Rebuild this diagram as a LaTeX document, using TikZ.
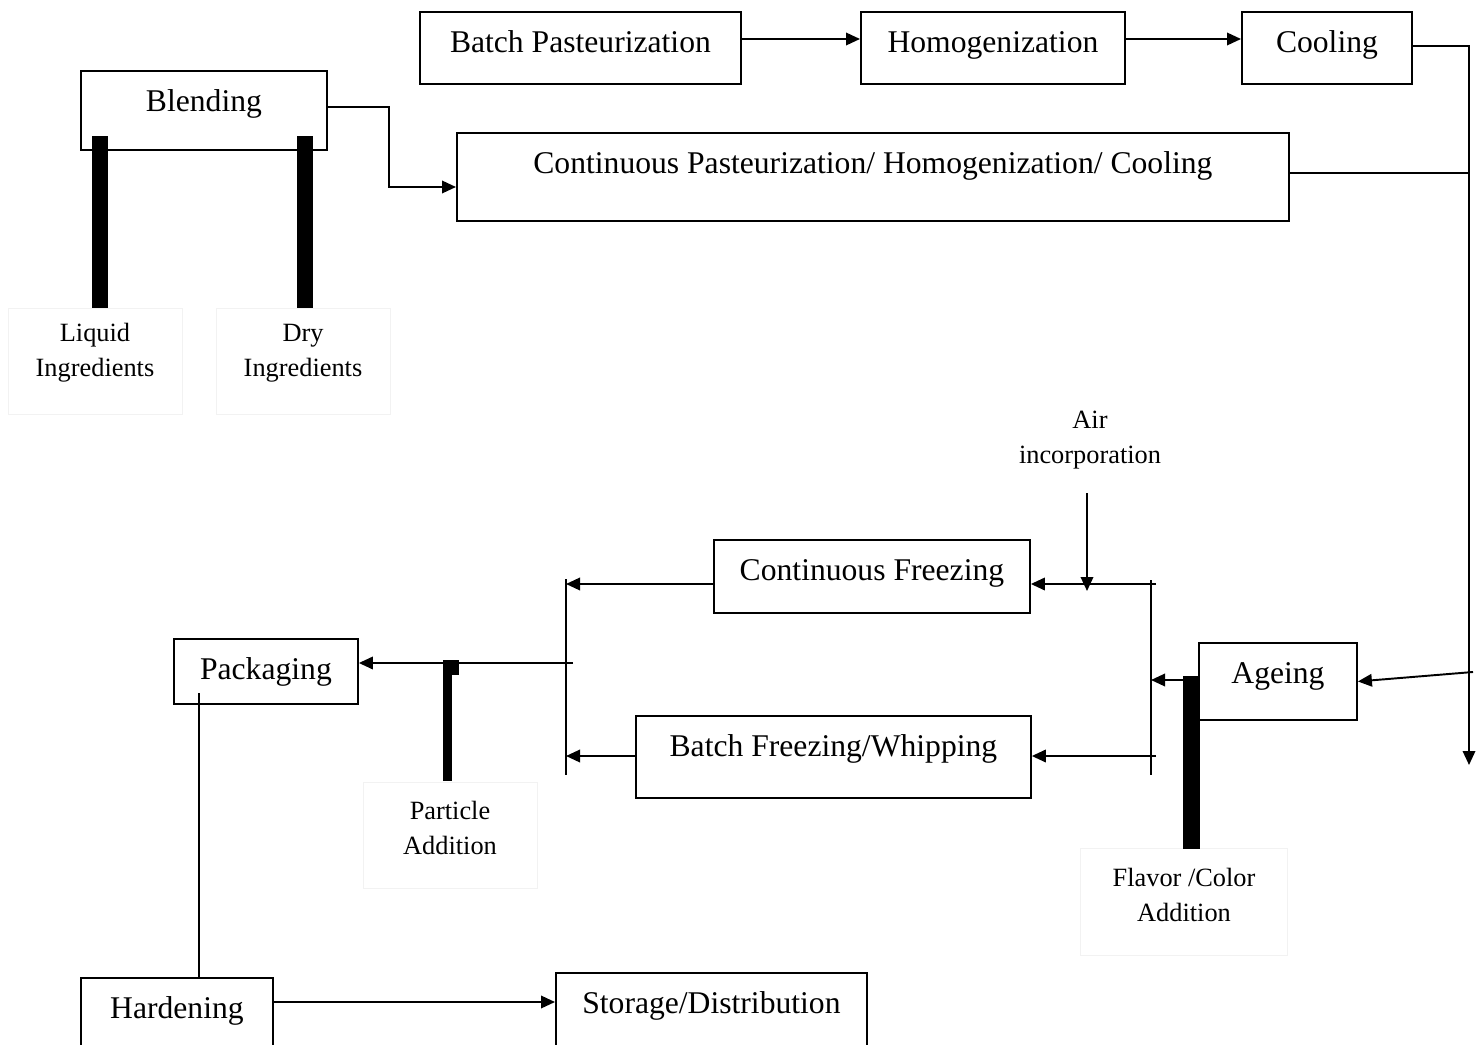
\documentclass[tikz,border=0pt]{standalone}
\usepackage{fontspec}
\setmainfont{Liberation Serif}
\usetikzlibrary{arrows.meta}
\tikzset{
  stage/.style 2 args={draw, inner sep=0pt, anchor=north west, minimum width=#1,
    text height=0.82cm, text depth=#2},
  feed/.style={font=\fontsize{15}{19.9}\selectfont, align=center},
  flow/.style={-{Triangle[length=0.28cm,width=0.25cm]}},
  faint/.style={draw=black!5, line width=0.5pt},
}
\begin{document}
\begin{tikzpicture}[x=0.02cm, y=-0.02cm, line width=1.1pt, font=\fontsize{18}{22}\selectfont]
  \clip (0,0) rectangle (1483,1044);
  % process steps
  \node[stage={6.42cm}{0.62cm}] (bpast) at (419,11) {Batch Pasteurization};
  \node[stage={5.28cm}{0.62cm}] (homog) at (860,11) {Homogenization};
  \node[stage={3.4cm}{0.62cm}] (cool) at (1241,11) {Cooling};
  \node[stage={4.92cm}{0.76cm}] (blend) at (80,70) {Blending};
  \node[stage={16.64cm}{0.94cm}] (cphc) at (456,132) {Continuous Pasteurization/ Homogenization/ Cooling};
  \node[stage={6.32cm}{0.64cm}] (cfreeze) at (713,539) {Continuous Freezing};
  \node[stage={7.9cm}{0.82cm}] (bfreeze) at (635,715) {Batch Freezing/Whipping};
  \node[stage={3.16cm}{0.72cm}] (ageing) at (1198,642) {Ageing};
  \node[stage={3.68cm}{0.48cm}] (pack) at (173,638) {Packaging};
  \node[stage={3.84cm}{0.78cm}] (harden) at (80,977) {Hardening};
  \node[stage={6.22cm}{0.78cm}] (store) at (555,972) {Storage/Distribution};
  % additions
  \draw[faint] (8,308) rectangle (182,414);
  \draw[faint] (216,308) rectangle (390,414);
  \draw[faint] (363,782) rectangle (537,888);
  \draw[faint] (1080,848) rectangle (1287,955);
  \node[feed] (liquid) at (95,353) {Liquid\\Ingredients};
  \node[feed] (dry) at (303,353) {Dry\\Ingredients};
  \node[feed] (air) at (1090,440) {Air\\incorporation};
  \node[feed] (particle) at (450,828) {Particle\\Addition};
  \node[feed] (flavor) at (1184,895) {Flavor /Color\\Addition};
  % rails
  \coordinate (railtop) at (1469,46);
  \coordinate (railend) at (1469,765);
  \coordinate (airend) at (1087,493);
  \draw (1151,580) -- (1151,775); %right split
  \draw (566,579) -- (566,775); %left join
  % flows
  \draw[flow] (bpast.east |- 0,39) -- (homog.west |- 0,39);
  \draw[flow] (homog.east |- 0,39) -- (cool.west |- 0,39);
  \draw[flow] (cool.east |- railtop) -- (railtop) -- (railend);
  \draw (cphc.east |- 0,173) -- (railtop |- 0,173);
  \draw[flow] (blend.east |- 0,107) -- (389,107) -- (389,187) -- (cphc.west |- 0,187);
  \draw[flow] (1473,672) -- (ageing.east);
  \draw[flow] (ageing.west |- 0,680) -- (1151,680);
  \draw[flow] (1156,584) -- (cfreeze.east |- 0,584);
  \draw[flow] (airend) -- (1087,591);
  \draw[flow] (1156,756) -- (bfreeze.east |- 0,756);
  \draw[flow] (cfreeze.west |- 0,584) -- (566,584);
  \draw[flow] (bfreeze.west |- 0,756) -- (566,756);
  \draw[flow] (573,663) -- (pack.east |- 0,663);
  \draw (199,693) -- (harden.north -| 199,0);
  \draw[flow] (harden.east |- 0,1002) -- (store.west |- 0,1002);
  % feed bars
  \fill (92,136) rectangle (108,308);
  \fill (297,136) rectangle (313,308);
  \fill (443,660) rectangle (452,781);
  \fill (443,660) rectangle (459,675);
  \fill (1183,676) rectangle (1200,849);
\end{tikzpicture}
\end{document}
